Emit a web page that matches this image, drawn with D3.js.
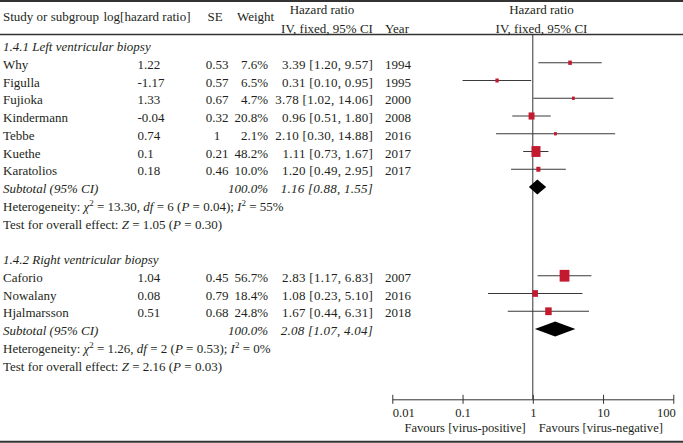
<!DOCTYPE html>
<html><head><meta charset="utf-8">
<script src="https://cdn.jsdelivr.net/npm/d3@7"></script>
<style>
body{margin:0;background:#fff;}
svg text{font-family:"Liberation Serif","Times New Roman",serif;font-size:13px;fill:#231f20;}
</style></head>
<body><svg id="c" width="683" height="443"></svg>
<script>
// ---- data ----
const studies1 = ["Why","Figulla","Fujioka","Kindermann","Tebbe","Kuethe","Karatolios"];
const logHR1 = ["1.22","-1.17","1.33","-0.04","0.74","0.1","0.18"];
const se1 = ["0.53","0.57","0.67","0.32","1","0.21","0.46"];
const weight1 = [7.6,6.5,4.7,20.8,2.1,48.2,10.0];
const hr1 = [3.39,0.31,3.78,0.96,2.10,1.11,1.20];
const lo1 = [1.20,0.10,1.02,0.51,0.30,0.73,0.49];
const hi1 = [9.57,0.95,14.06,1.80,14.88,1.67,2.95];
const year1 = [1994,1995,2000,2008,2016,2017,2017];
const subtotal1 = [1.16,0.88,1.55];
const het1 = {chi2:"13.30", df:"6", p:"0.04", i2:"55%"};
const test1 = {z:"1.05", p:"0.30"};

const studies2 = ["Caforio","Nowalany","Hjalmarsson"];
const logHR2 = ["1.04","0.08","0.51"];
const se2 = ["0.45","0.79","0.68"];
const weight2 = [56.7,18.4,24.8];
const hr2 = [2.83,1.08,1.67];
const lo2 = [1.17,0.23,0.44];
const hi2 = [6.83,5.10,6.31];
const year2 = [2007,2016,2018];
const subtotal2 = [2.08,1.07,4.04];
const het2 = {chi2:"1.26", df:"2", p:"0.53", i2:"0%"};
const test2 = {z:"2.16", p:"0.03"};

const sections = ["1.4.1 Left ventricular biopsy","1.4.2 Right ventricular biopsy"];
const tickVals = [0.01,0.1,1,10,100];
const tickLabels = ["0.01","0.1","1","10","100"];
const favours = ["Favours [virus-positive]","Favours [virus-negative]"];

// ---- drawing ----
const svg = d3.select("#c");
const ink = "#231f20", lineC = "#333";
const x = d3.scaleLog().domain([0.01,100]).range([392.3,673.3]);
const rowY = i => 45 + i*17.75;
const base = 6;
const fmt = d3.format(".2f");

// frame lines
svg.append("line").attr("x1",0).attr("x2",683).attr("y1",1).attr("y2",1).attr("stroke",lineC).attr("stroke-width",2);
svg.append("line").attr("x1",0).attr("x2",683).attr("y1",34.5).attr("y2",34.5).attr("stroke",lineC).attr("stroke-width",1.3);
svg.append("line").attr("x1",0).attr("x2",683).attr("y1",441.7).attr("y2",441.7).attr("stroke",lineC).attr("stroke-width",2);

// headers
const T = (tx,ty,s,anchor,style)=>{const t=svg.append("text").attr("x",tx).attr("y",ty).attr("text-anchor",anchor||"start").text(s); if(style) t.attr("font-style",style); return t;};
T(3,21,"Study or subgroup");
T(103.5,21,"log[hazard ratio]");
T(207.5,21,"SE");
T(237,21,"Weight");
T(322,14,"Hazard ratio","middle");
T(327,32.5,"IV, fixed, 95% CI","middle");
T(385,32.5,"Year");
T(541.5,14,"Hazard ratio","middle");
T(541.5,32.5,"IV, fixed, 95% CI","middle");

// zero-effect line
svg.append("line").attr("x1",x(1)).attr("x2",x(1)).attr("y1",34.5).attr("y2",399.3).attr("stroke",lineC).attr("stroke-width",1);

function hetText(i,h){
  const t = svg.append("text").attr("x",3).attr("y",rowY(i)+base);
  t.append("tspan").text("Heterogeneity: ");
  t.append("tspan").attr("font-style","italic").text("χ");
  t.append("tspan").attr("dy",-5).attr("font-size","9px").text("2");
  t.append("tspan").attr("dy",5).text(" = "+h.chi2+", ");
  t.append("tspan").attr("font-style","italic").text("df");
  t.append("tspan").text(" = "+h.df+" (");
  t.append("tspan").attr("font-style","italic").text("P");
  t.append("tspan").text(" = "+h.p+"); ");
  t.append("tspan").attr("font-style","italic").text("I");
  t.append("tspan").attr("dy",-5).attr("font-size","9px").text("2");
  t.append("tspan").attr("dy",5).text(" = "+h.i2);
}
function testText(i,z){
  const t = svg.append("text").attr("x",3).attr("y",rowY(i)+base);
  t.append("tspan").text("Test for overall effect: ");
  t.append("tspan").attr("font-style","italic").text("Z");
  t.append("tspan").text(" = "+z.z+" (");
  t.append("tspan").attr("font-style","italic").text("P");
  t.append("tspan").text(" = "+z.p+")");
}

function section(start, title, names, lhr, se, w, hr, lo, hi, yr, sub, het, tst){
  T(3,rowY(start)+base,title,"start","italic");
  names.forEach((n,k)=>{
    const i = start+1+k, y = rowY(i);
    T(3,y+base,n);
    T(137.5,y+base,lhr[k]);
    T(217,y+base,se[k],"middle");
    T(268,y+base,w[k].toFixed(1)+"%","end");
    T(373,y+base,fmt(hr[k])+" ["+fmt(lo[k])+", "+fmt(hi[k])+"]","end").attr("letter-spacing","0.25px");
    T(385,y+base,String(yr[k]));
    svg.append("line").attr("x1",x(lo[k])).attr("x2",x(hi[k])).attr("y1",y).attr("y2",y).attr("stroke","#3a3a3a").attr("stroke-width",1);
    const sw = Math.max(2.8, 1.3*Math.sqrt(w[k])), sh = sw*1.2;
    svg.append("rect").attr("x",x(hr[k])-sw/2).attr("y",y-sh/2).attr("width",sw).attr("height",sh).attr("fill","#c41a30");
  });
  const si = start+1+names.length, sy = rowY(si);
  T(3,sy+base,"Subtotal (95% CI)","start","italic");
  T(268,sy+base,"100.0%","end","italic");
  T(373,sy+base,fmt(sub[0])+" ["+fmt(sub[1])+", "+fmt(sub[2])+"]","end","italic").attr("letter-spacing","0.25px");
  const hh = 7.4;
  svg.append("path").attr("d",`M${x(sub[1])},${sy}L${x(sub[0])},${sy-hh}L${x(sub[2])},${sy}L${x(sub[0])},${sy+hh}Z`).attr("fill","#000");
  hetText(si+1,het);
  testText(si+2,tst);
}
section(0, sections[0], studies1, logHR1, se1, weight1, hr1, lo1, hi1, year1, subtotal1, het1, test1);
section(12, sections[1], studies2, logHR2, se2, weight2, hr2, lo2, hi2, year2, subtotal2, het2, test2);

// axis
const ax = svg.append("g").attr("transform","translate(0,399.3)")
  .call(d3.axisBottom(x).tickValues(tickVals).tickFormat((d,i)=>tickLabels[i]).tickSizeOuter(0).tickSizeInner(4.5));
ax.attr("font-family",null).attr("font-size",null);
ax.select(".domain").attr("stroke",lineC);
ax.selectAll(".tick line").attr("y1",-4.5).attr("y2",4.5).attr("stroke",lineC);
ax.selectAll(".tick text").attr("y",17.5).attr("dy",null).style("font-size","12.6px")
  .attr("fill",ink)
  .attr("text-anchor",(d,i)=> i===0?"start":(i===tickVals.length-1?"end":"middle"))
  .attr("dx",(d,i)=> i===tickVals.length-1? 2:0);
T(x(1)-7,432,favours[0],"end").style("font-size","12.6px");
T(x(1)+6,432,favours[1],"start").style("font-size","12.6px");
</script></body></html>
